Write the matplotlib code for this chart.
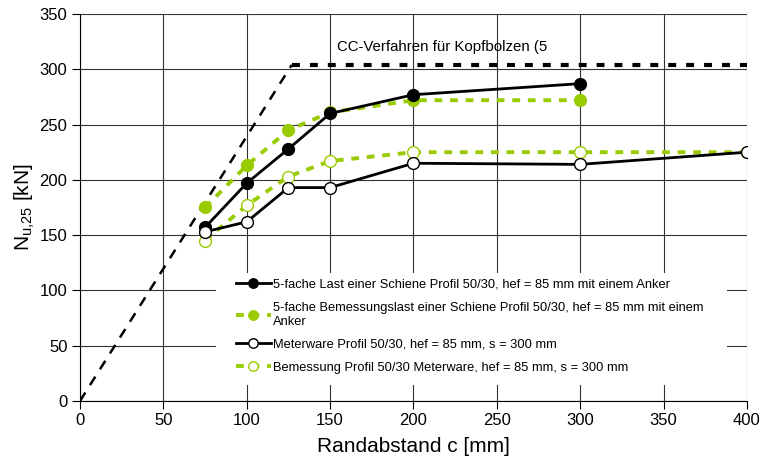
import matplotlib
matplotlib.use("Agg")
import matplotlib.pyplot as plt
from matplotlib.patches import Rectangle

plt.rcParams["font.family"] = ["Liberation Sans", "DejaVu Sans"]

GREEN = "#99cc00"

# Data
c_last = [75, 100, 125, 150, 200, 300]
n_last = [157, 197, 228, 260, 277, 287]

c_bem = [75, 100, 125, 150, 200, 300]
n_bem = [175, 213, 245, 261, 272, 272]

c_meter = [75, 100, 125, 150, 200, 300, 400]
n_meter = [153, 162, 193, 193, 215, 214, 225]

c_bem_meter = [75, 100, 125, 150, 200, 300, 400]
n_bem_meter = [145, 177, 203, 217, 225, 225, 225]

c_cc_rise = [0, 127]
n_cc_rise = [0, 304]
c_cc_flat = [127, 400]
n_cc_flat = [304, 304]

labels = [
    "5-fache Last einer Schiene Profil 50/30, hef = 85 mm mit einem Anker",
    "5-fache Bemessungslast einer Schiene Profil 50/30, hef = 85 mm mit einem\nAnker",
    "Meterware Profil 50/30, hef = 85 mm, s = 300 mm",
    "Bemessung Profil 50/30 Meterware, hef = 85 mm, s = 300 mm",
]

fig = plt.figure(figsize=(7.61, 4.66), dpi=100, facecolor="white")
ax = fig.add_axes([0.1051, 0.1395, 0.8765, 0.8305])

# CC-Verfahren line
ax.plot(c_cc_rise, n_cc_rise, color="black", lw=1.8, dashes=(4, 3.5), zorder=2)
ax.plot(c_cc_flat, n_cc_flat, color="black", lw=3, dashes=(1.9, 2.4), zorder=2)
ax.text(154, 320, "CC-Verfahren für Kopfbolzen (5", fontsize=10.8,
        ha="left", va="center")

h1, = ax.plot(c_last, n_last, color="black", lw=2, marker="o", ms=8.5,
              mfc="black", mec="black", zorder=4)
h2, = ax.plot(c_bem, n_bem, color=GREEN, lw=2.8, dashes=(2, 2), marker="o",
              ms=8.5, mfc=GREEN, mec=GREEN, zorder=3)
h3, = ax.plot(c_meter, n_meter, color="black", lw=2, marker="o", ms=8.5,
              mfc="white", mec="black", zorder=4)
h4, = ax.plot(c_bem_meter, n_bem_meter, color=GREEN, lw=2.8, dashes=(2, 2),
              marker="o", ms=8.5, mfc="white", mec=GREEN, zorder=3)

ax.set_xlim(0, 400)
ax.set_ylim(0, 350)
ax.set_xticks(range(0, 401, 50))
ax.set_yticks(range(0, 351, 50))
ax.grid(True, color="#333333", lw=0.8)
ax.set_axisbelow(True)
for s in ["top", "right"]:
    ax.spines[s].set_visible(False)
ax.tick_params(labelsize=12, length=6, width=0.8, pad=3)

ax.set_xlabel("Randabstand c [mm]", fontsize=15, labelpad=6)
ax.set_ylabel("N$_{\\mathregular{u{,}25}}$ [kN]", fontsize=15, labelpad=2)

# white legend area
ax.add_patch(Rectangle((0.204, 0.041), 0.766, 0.29, transform=ax.transAxes,
                       facecolor="white", edgecolor="none", zorder=1.5))
leg = ax.legend([h1, h2, h3, h4], labels, loc="upper left",
                bbox_to_anchor=(0.225, 0.331), frameon=False,
                fontsize=9.3, handlelength=2.7, handletextpad=0.15,
                labelspacing=0.85, borderpad=0.45, borderaxespad=0,
                markerscale=0.8)

fig.savefig("out.png", dpi=100, facecolor="white")
